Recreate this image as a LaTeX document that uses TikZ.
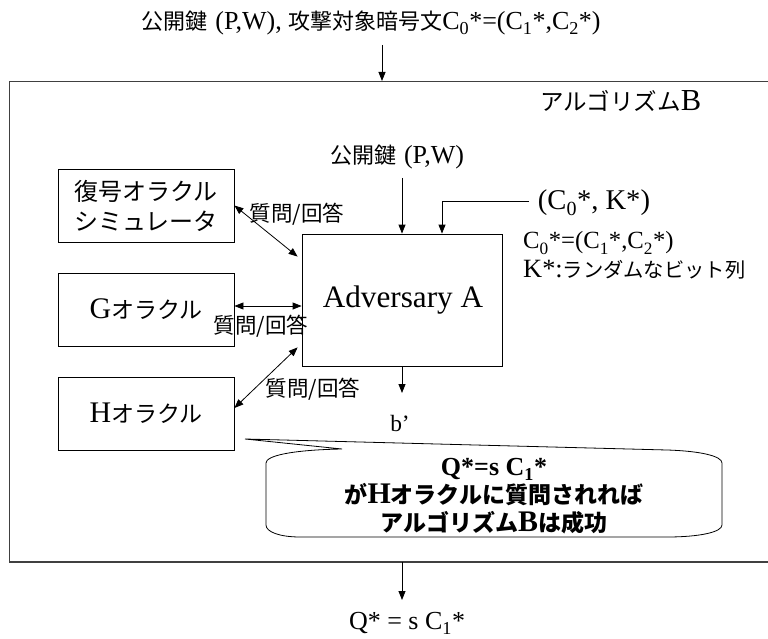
\documentclass[tikz,border=0pt]{standalone}
\usepackage{fontspec}
\setmainfont{Liberation Serif}[Scale=1.3]
\newfontfamily\jp{Noto Sans CJK JP}
\usetikzlibrary{arrows.meta,calc}
\newcommand{\J}[1]{{\jp #1}}
\newcommand{\Jt}[1]{{\fontsize{22}{24}\selectfont\jp #1}}
\newcommand{\sbs}[1]{\textsubscript{#1}}
\begin{document}
\begin{tikzpicture}[x=1pt,y=-1pt,
  box/.style={draw, line width=0.8pt, inner sep=0pt, align=center},
  arr/.style={line width=0.8pt, -{Triangle[length=9pt,width=7pt]}},
  darr/.style={line width=0.8pt, {Triangle[length=9pt,width=7pt]}-{Triangle[length=9pt,width=7pt]}},
  txt/.style={inner sep=0pt, font=\fontsize{20}{22}\selectfont},
  qa/.style={inner sep=0pt, font=\fontsize{21.5}{24}\selectfont},
  bigtxt/.style={inner sep=0pt, font=\fontsize{24}{30}\selectfont, align=center},
]
\useasboundingbox (0,0) rectangle (768,639);
\clip (0,0) rectangle (768,639);

% outer frame
\draw[line width=1.3pt, draw=black!75] (9.5,81.5) rectangle (790,562);

% title
\node[txt] (title) at (371,23) {\Jt{公開鍵}\hspace{8pt}(P,W), \Jt{攻撃対象暗号文}C\sbs{0}*=(C\sbs{1}*,C\sbs{2}*)};
\coordinate (titleArrow) at (382,45);
\coordinate (frameTop) at (382,81);
\draw[arr] (titleArrow) -- (frameTop);

\node[bigtxt, font=\fontsize{23.5}{30}\selectfont] (algB) at (621,101) {\J{アルゴリズム}B};

% adversary
\node[box, minimum width=200pt, minimum height=132pt] (adv) at (402,300) {};
\node[inner sep=0pt, font=\fontsize{24}{30}\selectfont] (advtxt) at (403,300) {Adversary A};

\node[txt] (pk) at (397,157) {\Jt{公開鍵}\hspace{8pt}(P,W)};
\draw[arr] (402,178) -- (adv.north -| 402,178);

\node[inner sep=0pt, font=\fontsize{22}{26}\selectfont] (ck) at (594,203) {(C\sbs{0}*,\ K*)};
\coordinate (ckStart) at (529,201);
\coordinate (ckBend) at (442,201);
\draw[arr] (ckStart) -- (ckBend) -- (ckBend |- adv.north);

\node[inner sep=0pt, font=\fontsize{19}{22}\selectfont, anchor=west] (c0def) at (523,243) {C\sbs{0}*=(C\sbs{1}*,C\sbs{2}*)};
\node[inner sep=0pt, font=\fontsize{20.3}{24}\selectfont, anchor=west] (kdef) at (523,270) {K*:\J{ランダムなビット列}};

% oracles
\node[box, minimum width=176pt, minimum height=73pt, font=\fontsize{24}{30}\selectfont] (dec) at (146,205.5) {\J{復号オラクル}\\\J{シミュレータ}};
\node[box, minimum width=176pt, minimum height=73pt, font=\fontsize{23}{30}\selectfont] (gor) at (146,309.5) {G\J{オラクル}};
\node[box, minimum width=176pt, minimum height=73pt, font=\fontsize{23}{30}\selectfont] (hor) at (146,413.5) {H\J{オラクル}};

\draw[darr] (dec.east) -- ($(adv.north west)+(-4,23)$);
\draw[darr] (gor.east |- 0,306) -- (adv.west |- 0,306);
\draw[darr] ($(adv.south west)+(-4,-19)$) -- (hor.east |- 0,408);

\node[qa] (q1) at (297,214) {\J{質問/回答}};
\node[qa] (q2) at (261,326) {\J{質問/回答}};
\node[qa] (q3) at (313,389) {\J{質問/回答}};

% output b'
\node[inner sep=0pt, font=\fontsize{18}{22}\selectfont] (bout) at (400,423) {b’};
\draw[arr] (adv.south -| 402,0) -- (402,393);

% callout
\draw[line width=0.8pt] (342,449) -- (245,439) -- (667,450)
  .. controls (700,451) and (722,456) .. (722,463)
  -- (722,525)
  .. controls (722,532) and (700,537) .. (667,537)
  -- (300,537)
  .. controls (280,537) and (266,532) .. (266,525)
  -- (266,463)
  .. controls (266,456) and (290,450) .. cycle;
\node[inner sep=0pt, align=center, font=\fontsize{23}{28}\bfseries\selectfont] (call) at (494,496)
  {{\fontsize{20}{28}\selectfont Q*=s C\sbs{1}*}\\\J{が}H\J{オラクルに質問されれば}\\\J{アルゴリズム}B\J{は成功}};

% bottom output
\coordinate (frameBot) at (402,562);
\node[inner sep=0pt, font=\fontsize{20}{24}\selectfont] (qout) at (407,623) {Q* = s C\sbs{1}*};
\draw[arr] (frameBot) -- (402,600);
\end{tikzpicture}
\end{document}
